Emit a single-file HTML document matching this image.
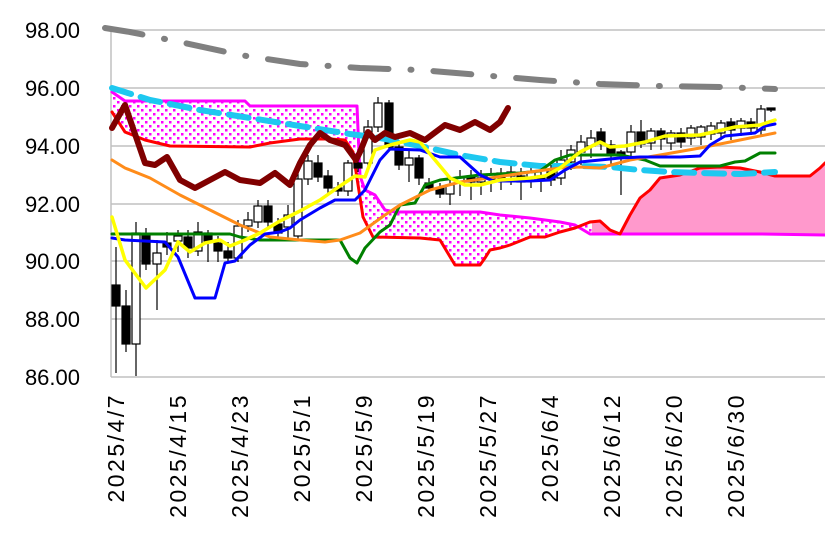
<!DOCTYPE html>
<html><head><meta charset="utf-8"><style>
html,body{margin:0;padding:0;background:#fff;}
svg{display:block;font-family:"Liberation Sans","Noto Sans CJK JP",sans-serif;}
</style></head><body>
<svg width="825" height="533" viewBox="0 0 825 533" xmlns="http://www.w3.org/2000/svg">
<defs>
<pattern id="dots" width="8" height="8" patternUnits="userSpaceOnUse">
<rect width="8" height="8" fill="#fff"/>
<rect x="1" y="1" width="2.5" height="2.5" fill="#ff00ff"/>
<rect x="5" y="5" width="2.5" height="2.5" fill="#ff00ff"/>
</pattern>
<clipPath id="cl"><rect x="0" y="0" width="592" height="533"/></clipPath>
<clipPath id="cr"><rect x="592" y="0" width="240" height="533"/></clipPath>
</defs>
<g stroke="#c0c0c0" stroke-width="1.5">
<line x1="111" y1="30" x2="825" y2="30"/><line x1="111" y1="88" x2="825" y2="88"/>
<line x1="111" y1="146" x2="825" y2="146"/><line x1="111" y1="204" x2="825" y2="204"/>
<line x1="111" y1="261" x2="825" y2="261"/><line x1="111" y1="319" x2="825" y2="319"/>
<line x1="111" y1="377" x2="825" y2="377"/><line x1="111" y1="28" x2="111" y2="377"/>
</g>
<g font-size="22" fill="#000" text-anchor="end">
<text x="80" y="38">98.00</text><text x="80" y="96">96.00</text><text x="80" y="154">94.00</text>
<text x="80" y="212">92.00</text><text x="80" y="269">90.00</text><text x="80" y="327">88.00</text>
<text x="80" y="385">86.00</text>
</g>
<g font-size="23" fill="#000" text-anchor="end" letter-spacing="2.5">
<text transform="translate(124,393) rotate(-90)">2025/4/7</text>
<text transform="translate(186,393) rotate(-90)">2025/4/15</text>
<text transform="translate(248,393) rotate(-90)">2025/4/23</text>
<text transform="translate(310,393) rotate(-90)">2025/5/1</text>
<text transform="translate(372,393) rotate(-90)">2025/5/9</text>
<text transform="translate(434,393) rotate(-90)">2025/5/19</text>
<text transform="translate(496,393) rotate(-90)">2025/5/27</text>
<text transform="translate(558,393) rotate(-90)">2025/6/4</text>
<text transform="translate(620,393) rotate(-90)">2025/6/12</text>
<text transform="translate(682,393) rotate(-90)">2025/6/20</text>
<text transform="translate(744,393) rotate(-90)">2025/6/30</text>
</g>
<g id="cloud">
<polygon clip-path="url(#cl)" fill="url(#dots)" points="112,92 125,101 245,101 250,106 352,106 357,106 360,176 365,190 375,195 385,210 395,212 480,212 500,215 530,218 560,222 575,225 590,234 760,234 825,235 825,163 820,168 810,176 775,176 760,172 740,168 720,167 700,168 680,175 660,178 650,190 640,198 630,215 620,234 610,230 600,221 590,222 575,228 560,232 545,237 530,237 510,245 500,248 490,250 485,258 480,265 455,265 440,240 420,238 373,237 363,217 353,152 345,140 330,139 300,139 270,143 250,147 170,146 145,140 125,132 112,112"/>
<polygon clip-path="url(#cr)" fill="#ff99cc" points="590,234 760,234 825,235 825,163 820,168 810,176 775,176 760,172 740,168 720,167 700,168 680,175 660,178 650,190 640,198 630,215 620,234 610,230 600,221 590,222"/>
</g>
<g fill="none" stroke-linejoin="round" stroke-linecap="round">
<polyline stroke="#ff00ff" stroke-width="3" points="112,92 125,101 245,101 250,106 352,106 357,106 360,176 365,190 375,195 385,210 395,212 480,212 500,215 530,218 560,222 575,225 590,234 760,234 825,235"/>
<polyline stroke="#ff0000" stroke-width="3" points="112,112 125,132 145,140 170,146 250,147 270,143 300,139 330,139 345,140 353,152 363,217 373,237 420,238 440,240 455,265 480,265 485,258 490,250 500,248 510,245 530,237 545,237 560,232 575,228 590,222 600,221 610,230 620,234 630,215 640,198 650,190 660,178 680,175 700,168 720,167 740,168 760,172 775,176 810,176 820,168 825,163"/>
<polyline stroke="#808080" stroke-width="6" stroke-linecap="round" stroke-dasharray="38 22 1 22" points="105,28 130,32 180,42 240,55 300,64 360,68 420,70 480,75 540,80 600,84 660,86 720,87 775,89"/>
</g>
<g stroke="#000" stroke-width="1.2">
<line x1="116" y1="247" x2="116" y2="373"/><rect x="112" y="285" width="8" height="21" fill="#000"/>
<line x1="126" y1="290" x2="126" y2="352"/><rect x="122" y="306" width="8" height="38" fill="#000"/>
<line x1="136" y1="222" x2="136" y2="376"/><rect x="132" y="233" width="8" height="111" fill="#fff"/>
<line x1="146" y1="228" x2="146" y2="270"/><rect x="142" y="234" width="8" height="30" fill="#000"/>
<line x1="157" y1="240" x2="157" y2="310"/><rect x="153" y="253" width="8" height="11" fill="#fff"/>
<line x1="167" y1="232" x2="167" y2="255"/><rect x="163" y="243" width="8" height="4" fill="#000"/>
<line x1="178" y1="230" x2="178" y2="252"/><rect x="174" y="236" width="8" height="5" fill="#fff"/>
<line x1="188" y1="230" x2="188" y2="258"/><rect x="184" y="237" width="8" height="11" fill="#000"/>
<line x1="198" y1="222" x2="198" y2="256"/><rect x="194" y="232" width="8" height="19" fill="#fff"/>
<line x1="208" y1="230" x2="208" y2="262"/><rect x="204" y="233" width="8" height="8" fill="#000"/>
<line x1="218" y1="236" x2="218" y2="262"/><rect x="214" y="243" width="8" height="8" fill="#000"/>
<line x1="228" y1="242" x2="228" y2="262"/><rect x="224" y="251" width="8" height="7" fill="#000"/>
<line x1="238" y1="220" x2="238" y2="262"/><rect x="234" y="226" width="8" height="32" fill="#fff"/>
<line x1="248" y1="212" x2="248" y2="232"/><rect x="244" y="220" width="8" height="6" fill="#fff"/>
<line x1="258" y1="200" x2="258" y2="228"/><rect x="254" y="206" width="8" height="16" fill="#fff"/>
<line x1="268" y1="200" x2="268" y2="228"/><rect x="264" y="206" width="8" height="16" fill="#000"/>
<line x1="278" y1="218" x2="278" y2="240"/><rect x="274" y="224" width="8" height="9" fill="#000"/>
<line x1="288" y1="205" x2="288" y2="240"/><rect x="284" y="215" width="8" height="12" fill="#fff"/>
<line x1="298" y1="170" x2="298" y2="240"/><rect x="294" y="179" width="8" height="57" fill="#fff"/>
<line x1="308" y1="155" x2="308" y2="185"/><rect x="304" y="161" width="8" height="18" fill="#fff"/>
<line x1="318" y1="155" x2="318" y2="182"/><rect x="314" y="163" width="8" height="14" fill="#000"/>
<line x1="328" y1="170" x2="328" y2="195"/><rect x="324" y="176" width="8" height="12" fill="#000"/>
<line x1="338" y1="182" x2="338" y2="196"/><rect x="334" y="188" width="8" height="3" fill="#000"/>
<line x1="348" y1="160" x2="348" y2="196"/><rect x="344" y="163" width="8" height="28" fill="#fff"/>
<line x1="358" y1="155" x2="358" y2="172"/><rect x="354" y="163" width="8" height="5" fill="#000"/>
<line x1="368" y1="120" x2="368" y2="170"/><rect x="364" y="127" width="8" height="36" fill="#fff"/>
<line x1="378" y1="97" x2="378" y2="132"/><rect x="374" y="103" width="8" height="24" fill="#fff"/>
<line x1="389" y1="100" x2="389" y2="150"/><rect x="385" y="103" width="8" height="44" fill="#000"/>
<line x1="399" y1="140" x2="399" y2="170"/><rect x="395" y="147" width="8" height="18" fill="#000"/>
<line x1="409" y1="150" x2="409" y2="182"/><rect x="405" y="158" width="8" height="7" fill="#fff"/>
<line x1="419" y1="155" x2="419" y2="185"/><rect x="415" y="158" width="8" height="20" fill="#000"/>
<line x1="429" y1="178" x2="429" y2="192"/><rect x="425" y="183" width="8" height="5" fill="#000"/>
<line x1="440" y1="183" x2="440" y2="198"/><rect x="436" y="188" width="8" height="6" fill="#000"/>
<line x1="450" y1="180" x2="450" y2="205"/><rect x="446" y="185" width="8" height="9" fill="#fff"/>
<line x1="460" y1="170" x2="460" y2="196"/><rect x="456" y="177" width="8" height="6" fill="#fff"/>
<line x1="471" y1="170" x2="471" y2="200"/><rect x="467" y="176" width="8" height="6" fill="#000"/>
<line x1="481" y1="170" x2="481" y2="195"/><rect x="477" y="178" width="8" height="4" fill="#fff"/>
<line x1="491" y1="168" x2="491" y2="192"/><rect x="487" y="174" width="8" height="5" fill="#fff"/>
<line x1="501" y1="168" x2="501" y2="190"/><rect x="497" y="173" width="8" height="5" fill="#000"/>
<line x1="511" y1="165" x2="511" y2="185"/><rect x="507" y="172" width="8" height="4" fill="#fff"/>
<line x1="521" y1="168" x2="521" y2="200"/><rect x="517" y="176" width="8" height="6" fill="#000"/>
<line x1="531" y1="166" x2="531" y2="188"/><rect x="527" y="172" width="8" height="8" fill="#fff"/>
<line x1="541" y1="168" x2="541" y2="192"/><rect x="537" y="176" width="8" height="4" fill="#000"/>
<line x1="551" y1="165" x2="551" y2="186"/><rect x="547" y="172" width="8" height="8" fill="#000"/>
<line x1="561" y1="150" x2="561" y2="185"/><rect x="557" y="160" width="8" height="18" fill="#fff"/>
<line x1="571" y1="145" x2="571" y2="170"/><rect x="567" y="150" width="8" height="12" fill="#fff"/>
<line x1="581" y1="135" x2="581" y2="165"/><rect x="577" y="142" width="8" height="10" fill="#fff"/>
<line x1="591" y1="130" x2="591" y2="158"/><rect x="587" y="138" width="8" height="8" fill="#fff"/>
<line x1="601" y1="128" x2="601" y2="150"/><rect x="597" y="132" width="8" height="12" fill="#000"/>
<line x1="611" y1="140" x2="611" y2="165"/><rect x="607" y="145" width="8" height="10" fill="#000"/>
<line x1="621" y1="150" x2="621" y2="195"/><rect x="617" y="152" width="8" height="4" fill="#000"/>
<line x1="631" y1="125" x2="631" y2="158"/><rect x="627" y="132" width="8" height="20" fill="#fff"/>
<line x1="641" y1="120" x2="641" y2="148"/><rect x="637" y="132" width="8" height="12" fill="#000"/>
<line x1="651" y1="128" x2="651" y2="150"/><rect x="647" y="131" width="8" height="12" fill="#fff"/>
<line x1="661" y1="128" x2="661" y2="150"/><rect x="657" y="131" width="8" height="8" fill="#000"/>
<line x1="671" y1="130" x2="671" y2="150"/><rect x="667" y="133" width="8" height="10" fill="#fff"/>
<line x1="681" y1="128" x2="681" y2="148"/><rect x="677" y="133" width="8" height="9" fill="#000"/>
<line x1="691" y1="125" x2="691" y2="145"/><rect x="687" y="128" width="8" height="10" fill="#fff"/>
<line x1="701" y1="125" x2="701" y2="145"/><rect x="697" y="127" width="8" height="10" fill="#fff"/>
<line x1="711" y1="122" x2="711" y2="140"/><rect x="707" y="126" width="8" height="8" fill="#fff"/>
<line x1="721" y1="120" x2="721" y2="140"/><rect x="717" y="123" width="8" height="10" fill="#fff"/>
<line x1="731" y1="118" x2="731" y2="140"/><rect x="727" y="122" width="8" height="8" fill="#000"/>
<line x1="741" y1="118" x2="741" y2="136"/><rect x="737" y="121" width="8" height="7" fill="#fff"/>
<line x1="751" y1="118" x2="751" y2="135"/><rect x="747" y="122" width="8" height="6" fill="#000"/>
<line x1="761" y1="105" x2="761" y2="135"/><rect x="757" y="109" width="8" height="21" fill="#fff"/>
<line x1="771" y1="108" x2="771" y2="112"/><rect x="767" y="108" width="8" height="2" fill="#000"/>
</g>
<g fill="none" stroke-linejoin="round" stroke-linecap="round">
<polyline stroke="#1ec8f0" stroke-width="6" stroke-linecap="round" stroke-dasharray="20 10" points="112,88 150,100 200,110 250,118 300,126 350,134 380,138 420,146 460,155 500,162 540,166 580,166 610,167 640,170 670,172 700,173 740,174 775,172"/>
<polyline stroke="#008000" stroke-width="3" points="112,234 130,234 230,234 240,237 260,240 340,240 350,258 357,263 365,248 380,232 390,225 400,205 415,203 425,185 440,180 480,175 520,173 540,171 555,160 570,155 620,155 645,160 660,166 720,166 735,162 745,161 760,153 775,153"/>
<polyline stroke="#ff8c1a" stroke-width="3" points="112,160 125,168 150,178 180,195 210,210 240,225 270,237 300,240 325,242 340,240 360,233 385,215 400,205 430,190 460,182 490,178 530,172 560,168 580,167 600,168 630,160 660,155 700,148 740,140 775,133"/>
<polyline stroke="#0000ff" stroke-width="3" points="112,238 125,240 165,242 178,257 195,298 215,298 225,263 235,261 250,245 265,234 280,232 290,228 300,220 320,208 335,200 355,200 365,190 380,160 390,149 420,150 440,157 460,157 470,166 480,175 493,181 530,181 550,180 565,170 580,162 600,160 620,158 640,157 680,157 700,156 710,145 725,136 755,133 765,126 775,124"/>
<polyline stroke="#ffff00" stroke-width="3.5" points="112,217 125,260 146,288 165,270 178,242 190,252 205,243 220,240 230,246 245,240 260,233 280,221 300,211 320,200 340,186 355,176 365,177 375,150 390,145 410,140 420,142 435,160 450,178 465,185 480,185 500,180 530,178 545,176 560,168 580,152 600,142 610,147 625,146 645,142 665,136 700,135 735,127 760,125 775,120"/>
<polyline stroke="#800000" stroke-width="6" points="112,128 125,105 145,163 155,165 167,157 180,180 195,188 210,180 225,172 240,180 260,183 275,173 290,185 300,163 310,145 320,133 330,140 345,145 356,160 360,152 368,132 375,140 385,133 395,137 410,133 425,140 445,125 460,130 475,122 490,130 500,122 508,108"/>
</g>
</svg>
</body></html>
